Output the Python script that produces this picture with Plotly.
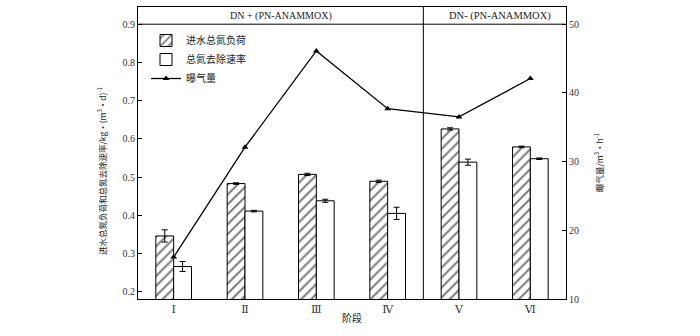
import plotly.graph_objects as go

stages = ["Ⅰ", "Ⅱ", "Ⅲ", "Ⅳ", "Ⅴ", "Ⅵ"]
influent_load = [0.346, 0.483, 0.507, 0.489, 0.626, 0.579]
influent_err = [0.016, 0.002, 0.003, 0.003, 0.003, 0.002]
removal_rate = [0.266, 0.411, 0.438, 0.405, 0.539, 0.548]
removal_err = [0.013, 0.002, 0.004, 0.016, 0.008, 0.002]
aeration = [16.1, 32.1, 46.1, 37.7, 36.5, 42.1]

left_ticks = [0.2, 0.3, 0.4, 0.5, 0.6, 0.7, 0.8, 0.9]
right_ticks = [10, 20, 30, 40, 50]

FONT = "Liberation Serif, Times New Roman, DejaVu Serif, Noto Sans CJK SC, serif"
CJK = "Noto Sans CJK SC, Liberation Serif, serif"

# plot area in pixels
L, R, T, B = 138, 566, 7, 299
W, H = R - L, B - T


def px(x):
    return (x - L) / W


def py(y):
    return (B - y) / H


fig = go.Figure()
fig.add_trace(go.Bar(
    x=stages, y=influent_load, name="进水总氮负荷",
    marker=dict(color="white", line=dict(color="black", width=1),
                pattern=dict(shape="/", fgcolor="black", bgcolor="white",
                             size=7, solidity=0.3, fillmode="overlay")),
    error_y=dict(type="data", array=influent_err, color="black", thickness=1, width=3),
))
fig.add_trace(go.Bar(
    x=stages, y=removal_rate, name="总氮去除速率",
    marker=dict(color="white", line=dict(color="black", width=1)),
    error_y=dict(type="data", array=removal_err, color="black", thickness=1, width=3),
))
fig.add_trace(go.Scatter(
    x=stages, y=aeration, name="曝气量", yaxis="y2", mode="lines+markers",
    line=dict(color="black", width=1.3),
    marker=dict(symbol="triangle-up", size=6, color="black"),
))

fig.update_layout(
    width=700, height=336,
    margin=dict(l=L, r=700 - R, t=T, b=336 - B),
    paper_bgcolor="white", plot_bgcolor="white",
    barmode="group", bargap=0.5, bargroupgap=0,
    font=dict(family=FONT, size=10, color="black"),
    showlegend=True,
    legend=dict(x=px(146), y=py(26), xanchor="left", yanchor="top",
                bgcolor="rgba(0,0,0,0)", font=dict(family=CJK, size=10, color="#222"),
                tracegroupgap=0, itemwidth=30),
    xaxis=dict(range=[-0.5, 5.5], showline=True, linecolor="black", linewidth=1,
               mirror=True, ticks="", showgrid=False, zeroline=False,
               tickfont=dict(family=FONT, size=11, color="#333")),
    yaxis=dict(range=[0.181, 0.945], tickvals=left_ticks, ticktext=[f"{v:.1f}" for v in left_ticks],
               showline=True, linecolor="black", linewidth=1, ticks="inside", ticklen=4,
               tickcolor="black", showgrid=False, zeroline=False,
               tickfont=dict(family=FONT, size=10, color="#333")),
    yaxis2=dict(range=[10, 52.5], tickvals=right_ticks, overlaying="y", side="right",
                showline=True, linecolor="black", linewidth=1, ticks="inside", ticklen=4,
                tickcolor="black", showgrid=False, zeroline=False,
                tickfont=dict(family=FONT, size=10, color="#333")),
)

# header separator and stage divider
fig.add_shape(type="line", xref="paper", x0=0, x1=1, yref="y", y0=0.9, y1=0.9,
              line=dict(color="black", width=1))
fig.add_shape(type="line", xref="x", x0=3.5, x1=3.5, yref="paper", y0=0, y1=1,
              line=dict(color="black", width=1))

fig.add_annotation(x=1.5, y=0.922, xref="x", yref="y", text="DN + (PN-ANAMMOX)",
                   xanchor="center", yanchor="middle",
                   showarrow=False, font=dict(family=FONT, size=10, color="#222"))
fig.add_annotation(x=4.57, y=0.922, xref="x", yref="y", text="DN- (PN-ANAMMOX)",
                   xanchor="center", yanchor="middle",
                   showarrow=False, font=dict(family=FONT, size=10.5, color="#222"))

# axis titles
fig.add_annotation(xref="paper", yref="paper", x=px(101), y=py(171),
                   xanchor="center", yanchor="middle",
                   text="进水总氮负荷和总氮去除速率/kg·(m<sup>3</sup>·d)<sup>-1</sup>",
                   textangle=-90, showarrow=False, font=dict(family=CJK, size=8.5, color="#222"))
fig.add_annotation(xref="paper", yref="paper", x=px(598), y=py(163),
                   xanchor="center", yanchor="middle",
                   text="曝气量/m<sup>3</sup>·h<sup>-1</sup>",
                   textangle=-90, showarrow=False, font=dict(family=CJK, size=8.5, color="#222"))
fig.add_annotation(xref="paper", yref="paper", x=px(352), y=py(317),
                   xanchor="center", yanchor="middle",
                   text="阶段", showarrow=False, font=dict(family=CJK, size=10, color="#222"))

fig.write_html("out.html")
